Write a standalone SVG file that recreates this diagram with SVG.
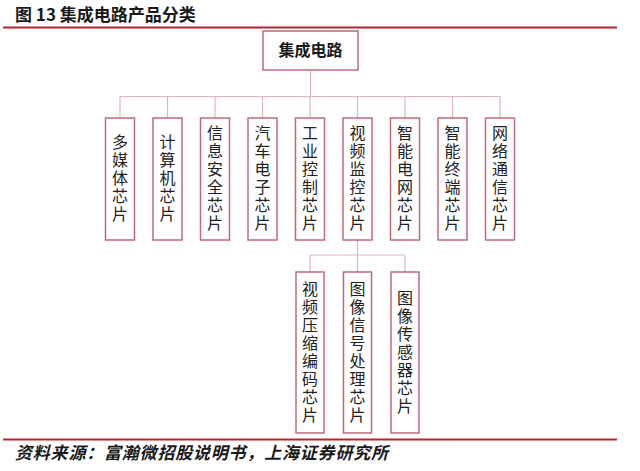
<svg xmlns="http://www.w3.org/2000/svg" width="640" height="471" viewBox="0 0 640 471">
<style>
.bg{fill:#ffffff}
.rule{stroke:#b8262c;stroke-width:2;fill:none}
.title{font-family:"Noto Sans CJK SC","Liberation Sans",sans-serif;font-weight:bold;font-size:17px;fill:#1a1a1a}
.src{font-family:"Noto Sans CJK SC","Liberation Sans",sans-serif;font-weight:bold;font-style:italic;font-size:17px;letter-spacing:0.8px;fill:#1a1a1a}
.box{fill:#ffffff;stroke:#c06a78;stroke-width:1.5}
.root{font-family:"Noto Sans CJK SC","Liberation Sans",sans-serif;font-weight:bold;font-size:16px;fill:#1a1a1a}
.lbl{font-family:"Noto Sans CJK SC","Liberation Sans",sans-serif;font-size:16px;letter-spacing:2px;fill:#222222;writing-mode:vertical-rl}
.conn{stroke:#e2b4bc;stroke-width:1.2;fill:none}
</style>
<rect class="bg" x="0" y="0" width="640" height="471"/>
<text class="title" x="15" y="21">图 13 集成电路产品分类</text>
<line class="rule" x1="3" y1="27.5" x2="617" y2="27.5"/>

<g id="connectors">
<path class="conn" d="M310.5,70 V96.5 M120,96.5 H500 M120,96.5 V118 M167.5,96.5 V118 M215,96.5 V118 M262.5,96.5 V118 M310,96.5 V118 M357.5,96.5 V118 M405,96.5 V118 M452.5,96.5 V118 M500,96.5 V118"/>
<path class="conn" d="M357.5,240 V255 M310,255 H405 M310,255 V272 M357.5,255 V272 M405,255 V272"/>
</g>

<g id="root">
<rect class="box" x="263" y="31" width="95" height="39"/>
<text class="root" x="310.5" y="56" text-anchor="middle">集成电路</text>
</g>

<g id="n1">
<rect class="box" x="105.5" y="118" width="29" height="122"/>
<text class="lbl" x="120" y="134">多媒体芯片</text>
</g>
<g id="n2">
<rect class="box" x="153" y="118" width="29" height="122"/>
<text class="lbl" x="167.5" y="134">计算机芯片</text>
</g>
<g id="n3">
<rect class="box" x="200.5" y="118" width="29" height="122"/>
<text class="lbl" x="215" y="125">信息安全芯片</text>
</g>
<g id="n4">
<rect class="box" x="248" y="118" width="29" height="122"/>
<text class="lbl" x="262.5" y="125">汽车电子芯片</text>
</g>
<g id="n5">
<rect class="box" x="295.5" y="118" width="29" height="122"/>
<text class="lbl" x="310" y="125">工业控制芯片</text>
</g>
<g id="n6">
<rect class="box" x="343" y="118" width="29" height="122"/>
<text class="lbl" x="357.5" y="125">视频监控芯片</text>
</g>
<g id="n7">
<rect class="box" x="390.5" y="118" width="29" height="122"/>
<text class="lbl" x="405" y="125">智能电网芯片</text>
</g>
<g id="n8">
<rect class="box" x="438" y="118" width="29" height="122"/>
<text class="lbl" x="452.5" y="125">智能终端芯片</text>
</g>
<g id="n9">
<rect class="box" x="485.5" y="118" width="29" height="122"/>
<text class="lbl" x="500" y="125">网络通信芯片</text>
</g>

<g id="n10">
<rect class="box" x="296" y="272" width="28" height="161"/>
<text class="lbl" x="310" y="280.5">视频压缩编码芯片</text>
</g>
<g id="n11">
<rect class="box" x="343.5" y="272" width="28" height="161"/>
<text class="lbl" x="357.5" y="280.5">图像信号处理芯片</text>
</g>
<g id="n12">
<rect class="box" x="391" y="272" width="28" height="161"/>
<text class="lbl" x="405" y="289.5">图像传感器芯片</text>
</g>

<line class="rule" x1="3" y1="439.5" x2="617" y2="439.5"/>
<text class="src" x="15" y="459">资料来源：富瀚微招股说明书，上海证券研究所</text>
</svg>
